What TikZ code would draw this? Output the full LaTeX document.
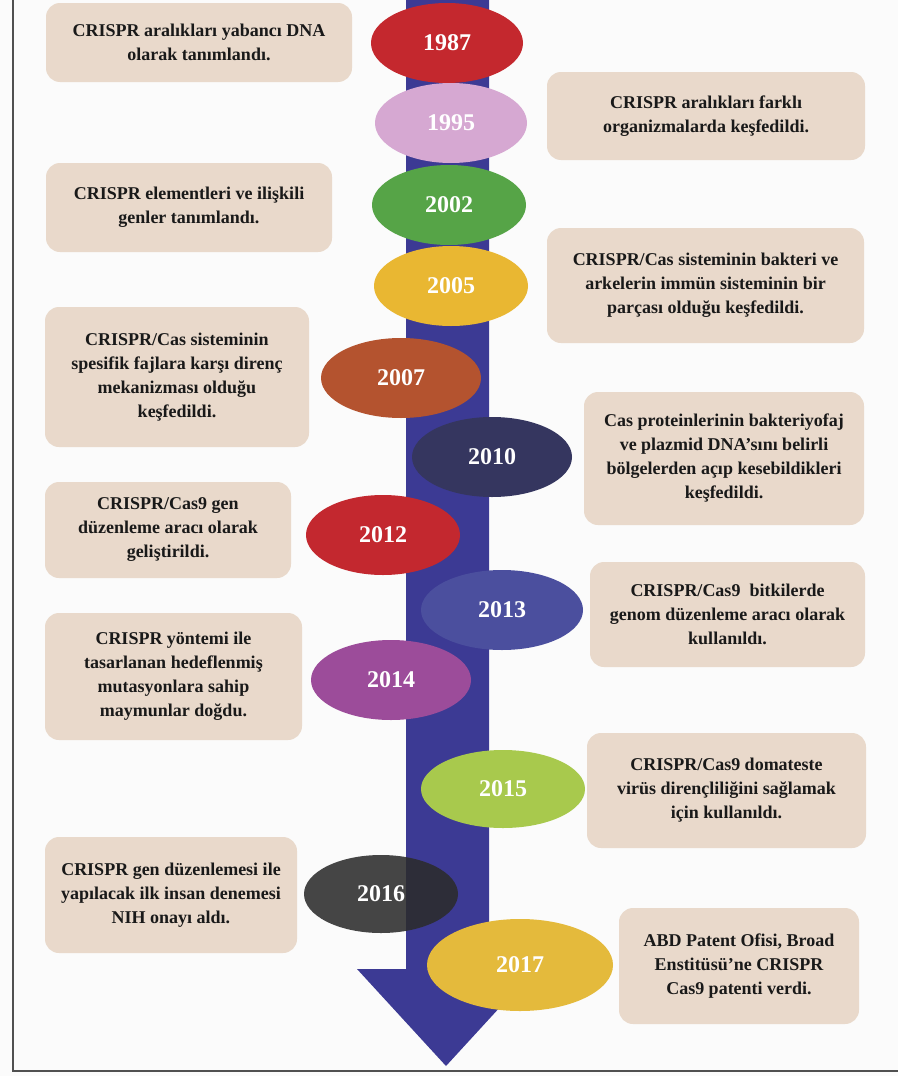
\documentclass[tikz,border=0pt]{standalone}
\usepackage{fontspec}
\setmainfont{Liberation Serif}
\usetikzlibrary{shapes.geometric}
\definecolor{bgc}{HTML}{FBFBFB}
\definecolor{boxc}{HTML}{E9D9CB}
\definecolor{shaftc}{HTML}{3C3A94}
\definecolor{framec}{HTML}{505050}
\definecolor{c1987}{HTML}{C4282E}
\definecolor{c1995}{HTML}{D6A8D2}
\definecolor{c2002}{HTML}{56A447}
\definecolor{c2005}{HTML}{E9B732}
\definecolor{c2007}{HTML}{B4532F}
\definecolor{c2010}{HTML}{35365F}
\definecolor{c2012}{HTML}{C3282F}
\definecolor{c2013}{HTML}{4B4F9E}
\definecolor{c2014}{HTML}{9C4C9A}
\definecolor{c2015}{HTML}{A8C94D}
\definecolor{c2016}{HTML}{2C2C2C}
\definecolor{c2017}{HTML}{E4BA3C}
\begin{document}
\begin{tikzpicture}[x=1pt,y=-1pt,
  evbox/.style={draw=none, fill=boxc, rounded corners=14pt, align=center, inner sep=0pt,
    text=black!90, font=\fontsize{18}{24}\selectfont\bfseries},
  yr/.style={ellipse, draw=none, inner sep=0pt, text=white,
    font=\fontsize{24}{24}\selectfont\bfseries}]
\useasboundingbox (0,0) rectangle (898,1076);
\fill[bgc] (0,0) rectangle (898,1076);
% frame
\draw[framec, line width=1.5pt] (13,0) -- (13,1071) -- (898,1071);
% arrow
\fill[shaftc] (406,-2) -- (406,969) -- (357,969) -- (446,1066) -- (535,969) -- (489,969) -- (489,-2) -- cycle;
% year ellipses
\node[yr, fill=c1987, minimum width=152pt, minimum height=80pt] (y1987) at (447,43) {1987};
\node[yr, fill=c1995, minimum width=152pt, minimum height=80pt] (y1995) at (451,123) {1995};
\node[yr, fill=c2002, minimum width=154pt, minimum height=80pt] (y2002) at (449,205) {2002};
\node[yr, fill=c2005, minimum width=154pt, minimum height=80pt] (y2005) at (451,286) {2005};
\node[yr, fill=c2007, minimum width=160pt, minimum height=80pt] (y2007) at (401,378) {2007};
\node[yr, fill=c2010, minimum width=160pt, minimum height=80pt] (y2010) at (492,457) {2010};
\node[yr, fill=c2012, minimum width=154pt, minimum height=80pt] (y2012) at (383,535) {2012};
\node[yr, fill=c2013, minimum width=162pt, minimum height=80pt] (y2013) at (502,610) {2013};
\node[yr, fill=c2014, minimum width=160pt, minimum height=80pt] (y2014) at (391,680) {2014};
\node[yr, fill=c2015, minimum width=164pt, minimum height=78pt] (y2015) at (503,789) {2015};
\node[yr, fill=c2016, fill opacity=0.88, text opacity=1, minimum width=154pt, minimum height=78pt] (y2016) at (381,894) {2016};
\node[yr, fill=c2017, minimum width=186pt, minimum height=92pt] (y2017) at (520,965) {2017};
% event boxes
\node[evbox, minimum width=306pt, minimum height=79pt] (b1987) at (199,42.5)
  {CRISPR aralıkları yabancı DNA\\olarak tanımlandı.};
\node[evbox, minimum width=318pt, minimum height=88pt] (b1995) at (706,116)
  {CRISPR aralıkları farklı\\organizmalarda keşfedildi.};
\node[evbox, minimum width=286pt, minimum height=89pt] (b2002) at (189,207.5)
  {CRISPR elementleri ve ilişkili\\genler tanımlandı.};
\node[evbox, minimum width=317pt, minimum height=115pt] (b2005) at (705.5,285.5)
  {CRISPR/Cas sisteminin bakteri ve\\arkelerin immün sisteminin bir\\parçası olduğu keşfedildi.};
\node[evbox, minimum width=264pt, minimum height=140pt] (b2007) at (177,377)
  {CRISPR/Cas sisteminin\\spesifik fajlara karşı direnç\\mekanizması olduğu\\keşfedildi.};
\node[evbox, minimum width=280pt, minimum height=133pt] (b2010) at (724,458.5)
  {Cas proteinlerinin bakteriyofaj\\ve plazmid DNA’sını belirli\\bölgelerden açıp kesebildikleri\\keşfedildi.};
\node[evbox, minimum width=246pt, minimum height=96pt] (b2012) at (168,530)
  {CRISPR/Cas9 gen\\düzenleme aracı olarak\\geliştirildi.};
\node[evbox, minimum width=275pt, minimum height=105pt] (b2013) at (727.5,614.5)
  {CRISPR/Cas9\ \ bitkilerde\\genom düzenleme aracı olarak\\kullanıldı.};
\node[evbox, minimum width=257pt, minimum height=127pt] (b2014) at (173.5,676.5)
  {CRISPR yöntemi ile\\tasarlanan hedeflenmiş\\mutasyonlara sahip\\maymunlar doğdu.};
\node[evbox, minimum width=279pt, minimum height=115pt] (b2015) at (726.5,790.5)
  {CRISPR/Cas9 domateste\\virüs dirençliliğini sağlamak\\için kullanıldı.};
\node[evbox, minimum width=252pt, minimum height=116pt] (b2016) at (171,895)
  {CRISPR gen düzenlemesi ile\\yapılacak ilk insan denemesi\\NIH onayı aldı.};
\node[evbox, minimum width=240pt, minimum height=116pt] (b2017) at (739,966)
  {ABD Patent Ofisi, Broad\\Enstitüsü’ne CRISPR\\Cas9 patenti verdi.};
\end{tikzpicture}
\end{document}
